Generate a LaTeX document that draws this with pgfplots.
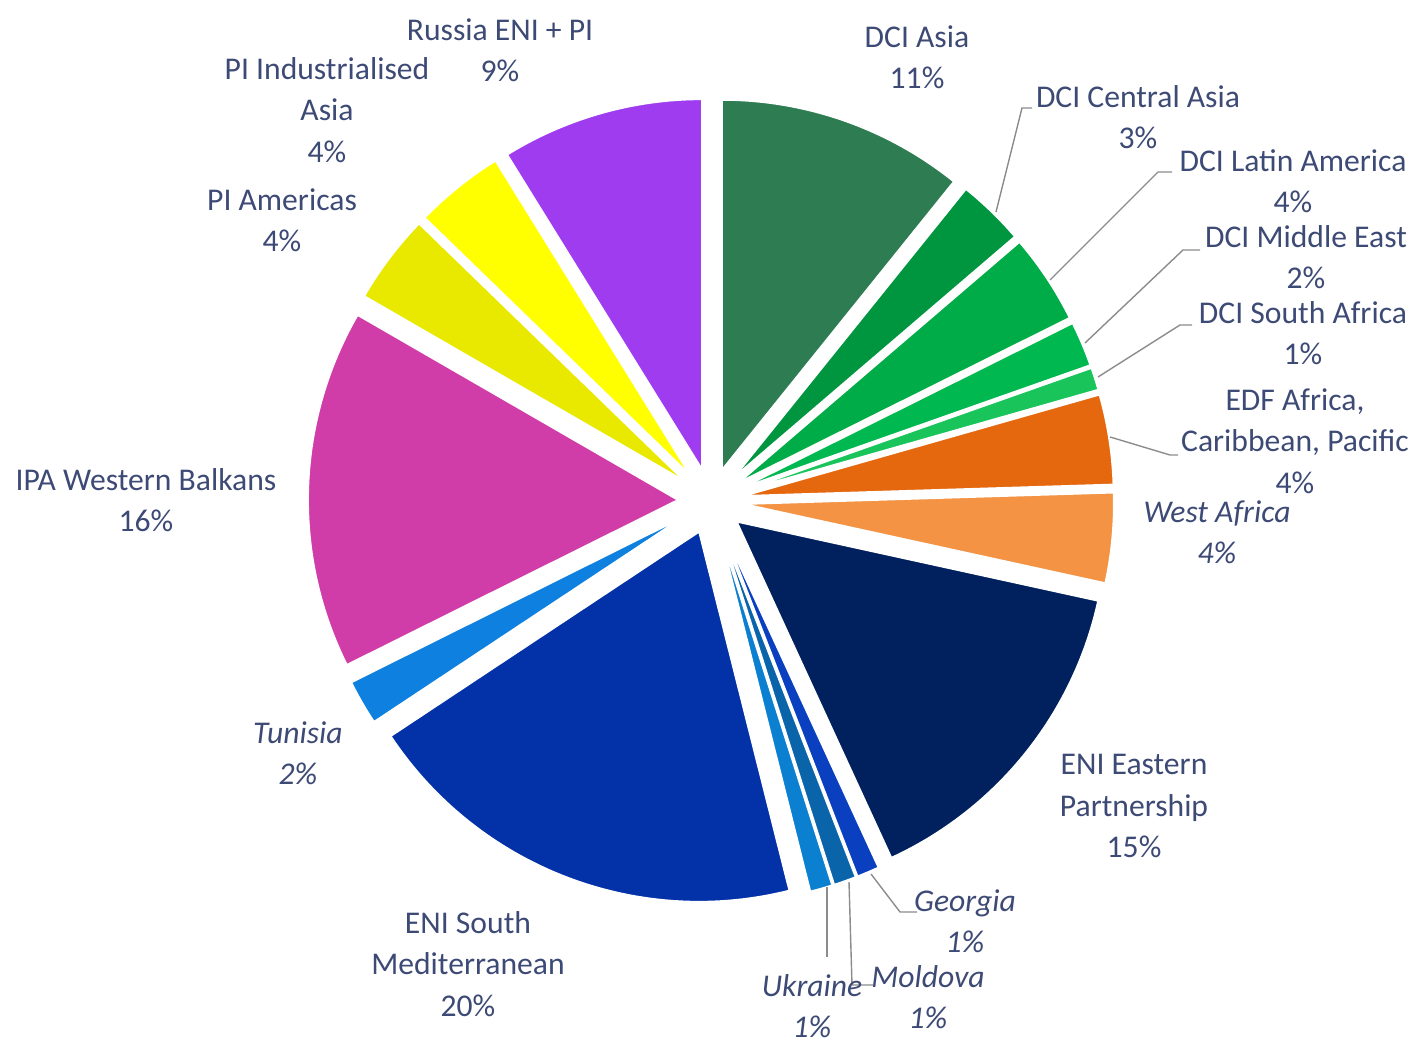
\documentclass[border=0pt]{standalone}
\usepackage{pgfplots}
\usepackage{pgfplotstable}
\usepackage{fontspec}
\setmainfont{Carlito}
\pgfplotsset{compat=1.18}

\definecolor{s1}{HTML}{2E7D52}
\definecolor{s2}{HTML}{009640}
\definecolor{s3}{HTML}{00AC47}
\definecolor{s4}{HTML}{00B850}
\definecolor{s5}{HTML}{19C45A}
\definecolor{s6}{HTML}{E5680E}
\definecolor{s7}{HTML}{F39343}
\definecolor{s8}{HTML}{00205E}
\definecolor{s9}{HTML}{0A40C0}
\definecolor{s10}{HTML}{0A64AA}
\definecolor{s11}{HTML}{0C80D0}
\definecolor{s12}{HTML}{0332A8}
\definecolor{s13}{HTML}{0E80E0}
\definecolor{s14}{HTML}{D03CA8}
\definecolor{s15}{HTML}{E9E900}
\definecolor{s16}{HTML}{FFFF00}
\definecolor{s17}{HTML}{A03CF0}
\definecolor{lab}{HTML}{3D4A75}
\definecolor{lead}{HTML}{8C8C8C}

% shares in %, clockwise from 12 o'clock
\pgfplotstableread{
name share col
DCIAsia 11 s1
DCICentralAsia 3 s2
DCILatinAmerica 4 s3
DCIMiddleEast 2 s4
DCISouthAfrica 1 s5
EDF 4 s6
WestAfrica 4 s7
ENIEastern 15 s8
Georgia 1 s9
Moldova 1 s10
Ukraine 1 s11
ENISouthMed 20 s12
Tunisia 2 s13
IPAWesternBalkans 16 s14
PIAmericas 4 s15
PIIndAsia 4 s16
Russia 9 s17
}\pietable

% pie centre, radius and explode offset (axis units = pixels)
\def\cx{711}
\def\cy{541}
\def\rad{370}
\def\expl{33}

\tikzset{lbl/.style={align=center, text=lab, inner sep=0pt,
  font=\fontsize{9}{11.8}\selectfont}}

\begin{document}
\begin{tikzpicture}
\begin{axis}[
    width=14.17cm, height=10.42cm, scale only axis,
    xmin=0, xmax=1417, ymin=0, ymax=1042,
    hide axis, clip=false,
]
\coordinate (bl) at (axis cs:0,0);
\coordinate (tr) at (axis cs:1417,1042);

\pgfplotstablegetrowsof{\pietable}
\pgfmathtruncatemacro\last{\pgfplotsretval-1}
\gdef\total{0}
\foreach \i in {0,...,\last}{
  \pgfplotstablegetelem{\i}{share}\of\pietable
  \pgfmathsetmacro\t{\total+\pgfplotsretval}
  \xdef\total{\t}
}
\gdef\cum{0}
\foreach \i in {0,...,\last}{
  \pgfplotstablegetelem{\i}{share}\of\pietable
  \let\v\pgfplotsretval
  \pgfplotstablegetelem{\i}{col}\of\pietable
  \let\c\pgfplotsretval
  \pgfmathsetmacro\a{\cum/\total*360}
  \pgfmathsetmacro\b{(\cum+\v)/\total*360}
  \pgfmathsetmacro\m{(\a+\b)/2}
  \pgfmathsetmacro\ox{\cx+\expl*sin(\m)}
  \pgfmathsetmacro\oy{\cy+\expl*cos(\m)}
  \edef\temp{\noexpand\addplot[fill=\c, draw=white, line width=0.5pt,
      domain=\a:\b, samples=60]
      ({\ox+\rad*sin(x)},{\oy+\rad*cos(x)}) -- (axis cs:\ox,\oy) -- cycle;}
  \temp
  \pgfmathsetmacro\n{\cum+\v}
  \xdef\cum{\n}
}

% leader lines
\draw[lead, line width=0.4pt] (axis cs:996,830) -- (axis cs:1022,934) -- (axis cs:1032,934);
\draw[lead, line width=0.4pt] (axis cs:1050,762) -- (axis cs:1158,870) -- (axis cs:1172,870);
\draw[lead, line width=0.4pt] (axis cs:1085,699) -- (axis cs:1183,792) -- (axis cs:1200,792);
\draw[lead, line width=0.4pt] (axis cs:1098,665) -- (axis cs:1180,717) -- (axis cs:1192,717);
\draw[lead, line width=0.4pt] (axis cs:1110,605) -- (axis cs:1170,587) -- (axis cs:1178,587);
\draw[lead, line width=0.4pt] (axis cs:871,168) -- (axis cs:900,130) -- (axis cs:917,130);
\draw[lead, line width=0.4pt] (axis cs:849,160) -- (axis cs:852,57) -- (axis cs:873,57);
\draw[lead, line width=0.4pt] (axis cs:827,155) -- (axis cs:827,85);

% labels
\node[lbl] at (axis cs:500,992) {Russia ENI + PI\\9\%};
\node[lbl] at (axis cs:327,932) {PI Industrialised\\Asia\\4\%};
\node[lbl] at (axis cs:282,822) {PI Americas\\4\%};
\node[lbl] at (axis cs:146,542) {IPA Western Balkans\\16\%};
\node[lbl, font=\fontsize{9}{11.8}\selectfont\itshape] at (axis cs:298,289) {Tunisia\\2\%};
\node[lbl] at (axis cs:468,78) {ENI South\\Mediterranean\\20\%};
\node[lbl, font=\fontsize{9}{11.8}\selectfont\itshape] at (axis cs:812,36) {Ukraine\\1\%};
\node[lbl, font=\fontsize{9}{11.8}\selectfont\itshape] at (axis cs:928,45) {Moldova\\1\%};
\node[lbl, font=\fontsize{9}{11.8}\selectfont\itshape] at (axis cs:965,121) {Georgia\\1\%};
\node[lbl] at (axis cs:1134,236) {ENI Eastern\\Partnership\\15\%};
\node[lbl, font=\fontsize{9}{11.8}\selectfont\itshape] at (axis cs:1217,510) {West Africa\\4\%};
\node[lbl] at (axis cs:1295,601) {EDF Africa,\\Caribbean, Pacific\\4\%};
\node[lbl] at (axis cs:1303,709) {DCI South Africa\\1\%};
\node[lbl] at (axis cs:1306,785) {DCI Middle East\\2\%};
\node[lbl] at (axis cs:1293,861) {DCI Latin America\\4\%};
\node[lbl] at (axis cs:1138,925) {DCI Central Asia\\3\%};
\node[lbl] at (axis cs:917,985) {DCI Asia\\11\%};
\end{axis}
\pgfresetboundingbox
\useasboundingbox (bl) rectangle (tr);
\end{tikzpicture}
\end{document}
